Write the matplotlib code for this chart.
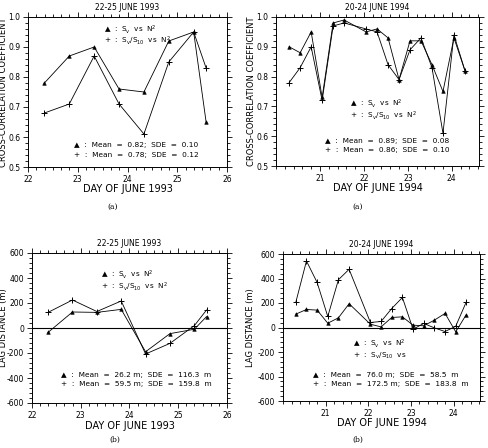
import matplotlib.pyplot as plt
from matplotlib.ticker import FixedLocator, MultipleLocator, FormatStrFormatter

plt.rcParams["font.family"] = "DejaVu Sans"
plt.rcParams["mathtext.default"] = "regular"
plt.rcParams["axes.unicode_minus"] = False

# datos (dias de junio)
dias_1993 = [22.33, 22.83, 23.33, 23.83, 24.33, 24.83, 25.33, 25.58]
corr_sv_1993 = [0.78, 0.87, 0.90, 0.76, 0.75, 0.92, 0.95, 0.65]
corr_ratio_1993 = [0.68, 0.71, 0.87, 0.71, 0.61, 0.85, 0.95, 0.83]
lag_sv_1993 = [-35, 128, 125, 149, -190, -45, -10, 91]
lag_ratio_1993 = [125, 224, 132, 216, -208, -123, 19, 144]

dias_1994 = [20.3, 20.55, 20.8, 21.05, 21.3, 21.55, 22.05, 22.3,
             22.55, 22.8, 23.05, 23.3, 23.55, 23.8, 24.05, 24.3]
corr_sv_1994 = [0.90, 0.88, 0.95, 0.73, 0.98, 0.99, 0.95, 0.96,
                0.93, 0.79, 0.92, 0.92, 0.84, 0.75, 0.93, 0.82]
corr_ratio_1994 = [0.78, 0.83, 0.90, 0.72, 0.97, 0.98, 0.96, 0.95,
                   0.84, 0.79, 0.89, 0.93, 0.83, 0.61, 0.94, 0.82]
lag_sv_1994 = [109, 147, 142, 35, 79, 194, 27, 5,
               82, 87, 19, 14, 60, 115, -35, 106]
lag_ratio_1994 = [205, 543, 368, 90, 390, 475, 41, 49,
                  155, 245, -14, 33, -3, -33, 10, 210]

leyenda_sv = "\u25b2  :  S$_v$  vs  N$^2$"
leyenda_ratio = "+  :  S$_v$/S$_{10}$  vs  N$^2$"
leyenda_ratio_corta = "+  :  S$_v$/S$_{10}$  vs"


def dibujar_panel(fig, rect, dias, serie_sv, serie_ratio, *, xlim, xticks, xminor,
                  ylim, ymajor, yminor, yfmt, titulo, xlabel, xlabel_y, ylabel,
                  ylabel_x, textos_leyenda, pos_leyenda, textos_stats, pos_stats,
                  cero=False):
    ax = fig.add_axes(rect)

    if cero:
        ax.axhline(0, color="black", lw=0.8, zorder=1)

    ax.plot(dias, serie_sv, color="black", lw=0.6, marker="^", ms=2.6,
            markerfacecolor="black", markeredgewidth=0.4, zorder=3)
    ax.plot(dias, serie_ratio, color="black", lw=0.6, marker="+", ms=4,
            markeredgewidth=0.7, zorder=3)

    ax.set_xlim(*xlim)
    ax.set_ylim(*ylim)
    ax.xaxis.set_major_locator(FixedLocator(xticks))
    ax.xaxis.set_minor_locator(MultipleLocator(xminor))
    ax.yaxis.set_major_locator(MultipleLocator(ymajor))
    ax.yaxis.set_minor_locator(MultipleLocator(yminor))
    ax.yaxis.set_major_formatter(FormatStrFormatter(yfmt))

    ax.tick_params(which="both", direction="out", top=True, right=True,
                   width=0.6, labelsize=5.5, pad=2)
    ax.tick_params(which="major", length=3.5)
    ax.tick_params(which="minor", length=2)
    for spine in ax.spines.values():
        spine.set_linewidth(0.7)

    ax.text(0.5, 1.065, titulo, transform=ax.transAxes, ha="center",
            va="center", fontsize=5.5)
    ax.set_xlabel(xlabel, fontsize=7)
    ax.xaxis.set_label_coords(0.5, xlabel_y)
    ax.set_ylabel(ylabel, fontsize=6)
    ax.yaxis.set_label_coords(ylabel_x, 0.5)

    # leyenda y estadisticas escritas como texto dentro del panel
    x0, ys = pos_leyenda
    for texto, y in zip(textos_leyenda, ys):
        ax.text(x0, y, texto, transform=ax.transAxes, ha="left",
                va="center", fontsize=5.2)
    x0, ys = pos_stats
    for texto, y in zip(textos_stats, ys):
        ax.text(x0, y, texto, transform=ax.transAxes, ha="left",
                va="center", fontsize=5.3)
    return ax


fig = plt.figure(figsize=(4.89, 4.48), dpi=100)

corr_comun = dict(ylim=(0.5, 1.0), ymajor=0.1, yminor=0.02, yfmt="%.1f",
                  ylabel="CROSS-CORRELATION COEFFICIENT")
lag_comun = dict(ylim=(-600, 600), ymajor=200, yminor=40, yfmt="%d",
                 ylabel="LAG DISTANCE (m)", cero=True)

dibujar_panel(
    fig, [28 / 489, 1 - 167 / 448, 199 / 489, 150 / 448],
    dias_1993, corr_sv_1993, corr_ratio_1993,
    xlim=(22, 26), xticks=[22, 23, 24, 25, 26], xminor=1 / 6,
    titulo="22-25 JUNE 1993", xlabel="DAY OF JUNE 1993", xlabel_y=-0.113,
    ylabel_x=-0.10,
    textos_leyenda=[leyenda_sv, leyenda_ratio], pos_leyenda=(0.38, [0.915, 0.84]),
    textos_stats=["\u25b2  :  Mean  =  0.82;  SDE  =  0.10",
                  "+  :  Mean  =  0.78;  SDE  =  0.12"],
    pos_stats=(0.23, [0.147, 0.078]),
    **corr_comun,
)

dibujar_panel(
    fig, [276 / 489, 1 - 166 / 448, 203 / 489, 149 / 448],
    dias_1994, corr_sv_1994, corr_ratio_1994,
    xlim=(20.0, 24.62), xticks=[21, 22, 23, 24], xminor=0.2,
    titulo="20-24 JUNE 1994", xlabel="DAY OF JUNE 1994", xlabel_y=-0.113,
    ylabel_x=-0.098,
    textos_leyenda=[leyenda_sv, leyenda_ratio], pos_leyenda=(0.365, [0.42, 0.337]),
    textos_stats=["\u25b2  :  Mean  =  0.89;  SDE  =  0.08",
                  "+  :  Mean  =  0.86;  SDE  =  0.10"],
    pos_stats=(0.24, [0.17, 0.107]),
    **corr_comun,
)

dibujar_panel(
    fig, [32 / 489, 1 - 403 / 448, 195 / 489, 150 / 448],
    dias_1993, lag_sv_1993, lag_ratio_1993,
    xlim=(22, 26), xticks=[22, 23, 24, 25, 26], xminor=1 / 6,
    titulo="22-25 JUNE 1993", xlabel="DAY OF JUNE 1993", xlabel_y=-0.118,
    ylabel_x=-0.123,
    textos_leyenda=[leyenda_sv, leyenda_ratio], pos_leyenda=(0.355, [0.852, 0.775]),
    textos_stats=["\u25b2  :  Mean  =  26.2 m;  SDE  =  116.3  m",
                  "+  :  Mean  =  59.5 m;  SDE  =  159.8  m"],
    pos_stats=(0.15, [0.187, 0.125]),
    **lag_comun,
)

dibujar_panel(
    fig, [283 / 489, 1 - 401 / 448, 197 / 489, 147 / 448],
    dias_1994, lag_sv_1994, lag_ratio_1994,
    xlim=(20.0, 24.62), xticks=[21, 22, 23, 24], xminor=0.2,
    titulo="20-24 JUNE 1994", xlabel="DAY OF JUNE 1994", xlabel_y=-0.118,
    ylabel_x=-0.142,
    textos_leyenda=[leyenda_sv, leyenda_ratio_corta], pos_leyenda=(0.355, [0.388, 0.31]),
    textos_stats=["\u25b2  :  Mean  =  76.0 m;  SDE  =  58.5  m",
                  "+  :  Mean  =  172.5 m;  SDE  =  183.8  m"],
    pos_stats=(0.15, [0.177, 0.114]),
    **lag_comun,
)

# etiquetas de sub-figura
for x, y, etiqueta in [(113, 207, "(a)"), (358, 207, "(a)"),
                       (115, 440, "(b)"), (358, 440, "(b)")]:
    fig.text(x / 489, 1 - y / 448, etiqueta, ha="center", va="center",
             fontsize=5.5, family="DejaVu Serif")

fig.savefig("out.png", dpi=100)
